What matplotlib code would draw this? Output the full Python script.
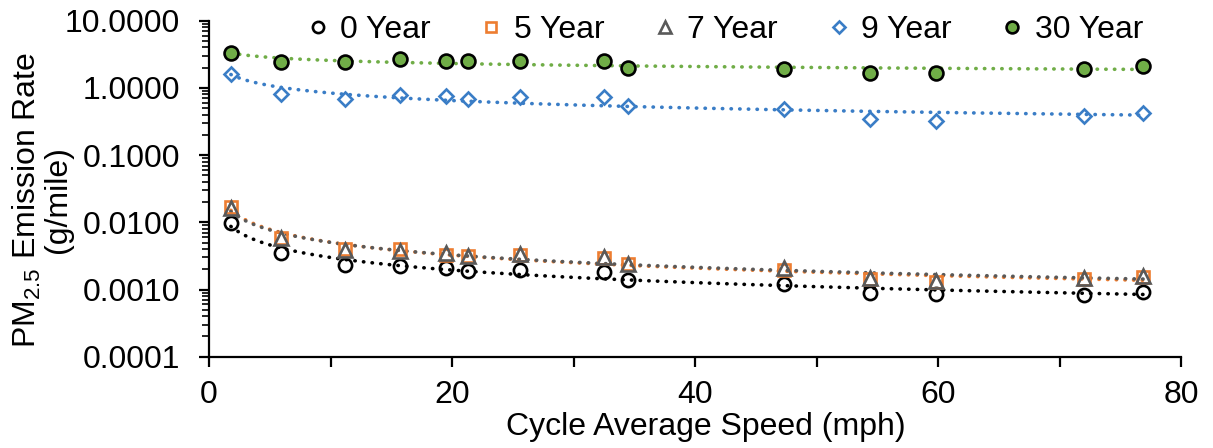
import numpy as np
import matplotlib
matplotlib.use("Agg")
import matplotlib.pyplot as plt

plt.rcParams['font.family'] = ['Liberation Sans', 'DejaVu Sans']
plt.rcParams['mathtext.fontset'] = 'custom'
plt.rcParams['mathtext.rm'] = 'Liberation Sans'
plt.rcParams['mathtext.it'] = 'Liberation Sans:italic'

# cycle average speed (mph)
speed = [1.8, 5.9, 11.2, 15.7, 19.5, 21.3, 25.6, 32.5, 34.5, 47.3, 54.4, 59.8, 72.0, 76.9]

# PM2.5 emission rates (g/mile) by vehicle age
year0 = [0.0097, 0.0035, 0.0023, 0.00225, 0.0021, 0.0019, 0.00195, 0.00184, 0.00138,
         0.0012, 0.0009, 0.00085, 0.00083, 0.00093]
year5 = [0.0167, 0.0059, 0.0040, 0.0040, 0.0033, 0.0031, 0.0033, 0.0029, 0.0024,
         0.00195, 0.00142, 0.00131, 0.00142, 0.00155]
year7 = [0.0161, 0.0058, 0.0039, 0.0038, 0.0035, 0.0032, 0.0034, 0.0030, 0.0024,
         0.00207, 0.00147, 0.00135, 0.00147, 0.0016]
year9 = [1.61, 0.80, 0.69, 0.78, 0.77, 0.69, 0.74, 0.74, 0.54,
         0.48, 0.344, 0.32, 0.38, 0.43]
year30 = [3.27, 2.45, 2.40, 2.67, 2.51, 2.51, 2.51, 2.50, 1.96,
          1.91, 1.65, 1.68, 1.89, 2.12]

labels = ['0 Year', '5 Year', '7 Year', '9 Year', '30 Year']

FS = 23

fig = plt.figure(figsize=(12.13, 4.48), dpi=100)
ax = fig.add_axes([209 / 1213, 1 - 356.7 / 448, (1181 - 209) / 1213, (356.7 - 20.7) / 448])

styles = [
    dict(marker='o', mfc='none', mec='black', line='black'),
    dict(marker='s', mfc='none', mec='#ed7d31', line='#ed7d31'),
    dict(marker='^', mfc='none', mec='#595959', line='#595959'),
    dict(marker='D', mfc='none', mec='#3a7dc6', line='#3a7dc6'),
    dict(marker='o', mfc='#70ad47', mec='black', line='#70ad47'),
]
sizes = [9.5, 9, 9.5, 7.5, 10]

x = np.array(speed)
for vals, lab, st, ms in zip([year0, year5, year7, year9, year30], labels, styles, sizes):
    y = np.array(vals)
    # power trendline, like Excel
    b, loga = np.polyfit(np.log(x), np.log(y), 1)
    xx = np.linspace(x.min(), x.max(), 200)
    ax.plot(xx, np.exp(loga) * xx ** b, color=st['line'], lw=2.6,
            linestyle=(0, (0.1, 2.3)), dash_capstyle='round', zorder=2)
    ax.plot(x, y, linestyle='none', marker=st['marker'], ms=ms, mfc=st['mfc'],
            mec=st['mec'], mew=1.9, label=lab, zorder=3)

ax.set_yscale('log')
ax.set_ylim(1e-4, 10)
ax.set_xlim(0, 80)
ax.set_yticks([1e-4, 1e-3, 1e-2, 1e-1, 1, 10])
ax.set_yticklabels(['%.4f' % v for v in [1e-4, 1e-3, 1e-2, 1e-1, 1, 10]])
ax.set_xticks(range(0, 81, 10))
ax.set_xticklabels([str(v) if v % 20 == 0 else '' for v in range(0, 81, 10)])

for s in ['top', 'right']:
    ax.spines[s].set_visible(False)
for s in ['left', 'bottom']:
    ax.spines[s].set_linewidth(1.6)
ax.tick_params(axis='both', which='major', length=7, width=1.6, labelsize=FS,
               direction='out')
ax.tick_params(axis='y', which='major', pad=14)
ax.tick_params(axis='x', which='major', pad=10)
ax.tick_params(axis='y', which='minor', length=5, width=1.2, direction='out')

ax.set_xlabel('Cycle Average Speed (mph)', fontsize=FS)
ax.xaxis.set_label_coords(0.511, -0.165)
fig.text(42 / 1213, 1 - 200 / 448, 'PM$_{2.5}$ Emission Rate\n(g/mile)',
         rotation=90, ha='center', va='center', fontsize=FS, linespacing=1.0)

ax.legend(loc='center', bbox_to_anchor=(724 / 1213, 1 - 30 / 448),
          bbox_transform=fig.transFigure, ncol=5, frameon=False, fontsize=FS,
          markerscale=0.85, handlelength=0.8, handletextpad=0.3, columnspacing=1.5,
          borderpad=0)

fig.savefig('out.png', dpi=100)
